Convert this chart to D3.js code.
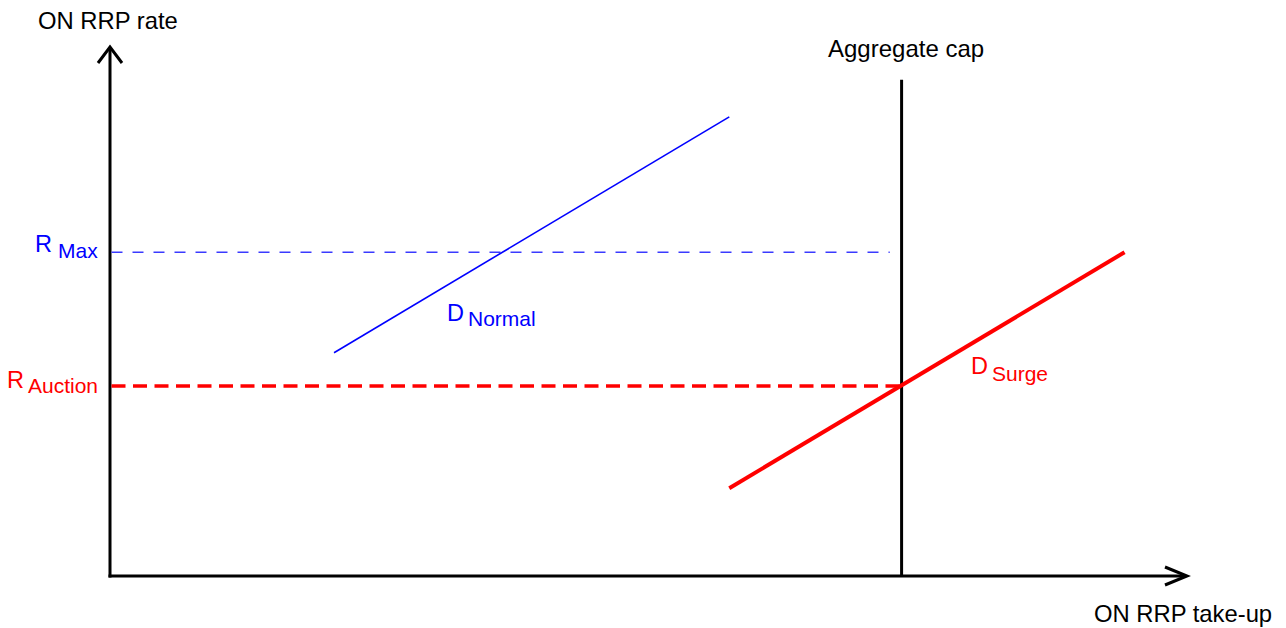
<!DOCTYPE html>
<html>
<head>
<meta charset="utf-8">
<script src="https://cdn.jsdelivr.net/npm/d3@7"></script>
<style>
  html, body { margin: 0; padding: 0; background: #fff; }
  svg { display: block; font-family: "Liberation Sans", Arial, sans-serif; }
</style>
</head>
<body>
<svg id="chart" width="1286" height="628"></svg>
<script>
// ---- data (abstract units, 0..100 on both axes) ----
const axisTitles = ["ON RRP rate", "ON RRP take-up"];
const capLabel = "Aggregate cap";
const capX = 73.5;
const capTop = 93.8;
const rateNames = ["R", "R"];
const rateSubs = ["Max", "Auction"];
const rateValues = [61.2, 35.9];
const rateLineEnds = [72.4, 73.5];
const demandNames = ["D", "D"];
const demandSubs = ["Normal", "Surge"];
const normalX = [20.8, 57.5];
const normalY = [42.2, 86.8];
const surgeX = [57.5, 94.2];
const surgeY = [16.6, 61.2];

const svg = d3.select("#chart");
const x = d3.scaleLinear().domain([0, 100]).range([110, 1187]);
const y = d3.scaleLinear().domain([0, 100]).range([576, 47]);

const BLUE = "#0000ff", RED = "#ff0000";

// axes
svg.append("line").attr("x1", x(0)).attr("y1", y(0) + 1.5).attr("x2", x(0)).attr("y2", y(100) + 1)
  .attr("stroke", "#000").attr("stroke-width", 3);
svg.append("path").attr("d", d3.line()([[x(0) - 12, y(100) + 16], [x(0), y(100)], [x(0) + 12, y(100) + 16]]))
  .attr("fill", "none").attr("stroke", "#000").attr("stroke-width", 3);
svg.append("line").attr("x1", x(0) - 1.5).attr("y1", y(0)).attr("x2", x(100) - 1).attr("y2", y(0))
  .attr("stroke", "#000").attr("stroke-width", 3);
svg.append("path").attr("d", d3.line()([[x(100) - 22, y(0) - 9], [x(100), y(0)], [x(100) - 22, y(0) + 9]]))
  .attr("fill", "none").attr("stroke", "#000").attr("stroke-width", 3);

svg.append("text").attr("x", 38).attr("y", 29).attr("font-size", 23.8).attr("fill", "#000").text(axisTitles[0]);
svg.append("text").attr("x", 1094).attr("y", 622).attr("font-size", 23.8).attr("fill", "#000").text(axisTitles[1]);

// rate lines
svg.append("line").attr("x1", x(0) + 1.5).attr("x2", x(rateLineEnds[0]))
  .attr("y1", y(rateValues[0])).attr("y2", y(rateValues[0]))
  .attr("stroke", "#3a3aff").attr("stroke-width", 1.3).attr("stroke-dasharray", "11,10");
svg.append("line").attr("x1", x(0) + 1.5).attr("x2", x(rateLineEnds[1]))
  .attr("y1", y(rateValues[1])).attr("y2", y(rateValues[1]))
  .attr("stroke", RED).attr("stroke-width", 3.5).attr("stroke-dasharray", "14,7.5");

// aggregate cap
svg.append("line").attr("x1", x(capX)).attr("x2", x(capX)).attr("y1", y(capTop)).attr("y2", y(0))
  .attr("stroke", "#000").attr("stroke-width", 3);
svg.append("text").attr("x", 828).attr("y", 57).attr("font-size", 24).attr("fill", "#000").text(capLabel);

// demand curves
const line = d3.line().x(d => x(d[0])).y(d => y(d[1]));
svg.append("path").attr("d", line(d3.zip(normalX, normalY)))
  .attr("fill", "none").attr("stroke", BLUE).attr("stroke-width", 1.6);
svg.append("path").attr("d", line(d3.zip(surgeX, surgeY)))
  .attr("fill", "none").attr("stroke", RED).attr("stroke-width", 4);

// labels
function label(px, py, main, sub, sx, sy, color) {
  const g = svg.append("g").attr("fill", color);
  g.append("text").attr("x", px).attr("y", py).attr("font-size", 23.5).text(main);
  g.append("text").attr("x", sx).attr("y", sy).attr("font-size", 21).text(sub);
}
label(35, y(rateValues[0]), rateNames[0], rateSubs[0], 58, y(rateValues[0]) + 6, BLUE);
label(7, y(rateValues[1]) + 2, rateNames[1], rateSubs[1], 28, y(rateValues[1]) + 7, RED);
label(447, 321, demandNames[0], demandSubs[0], 468, 326, BLUE);
label(971, 374, demandNames[1], demandSubs[1], 992, 381, RED);
</script>
</body>
</html>
